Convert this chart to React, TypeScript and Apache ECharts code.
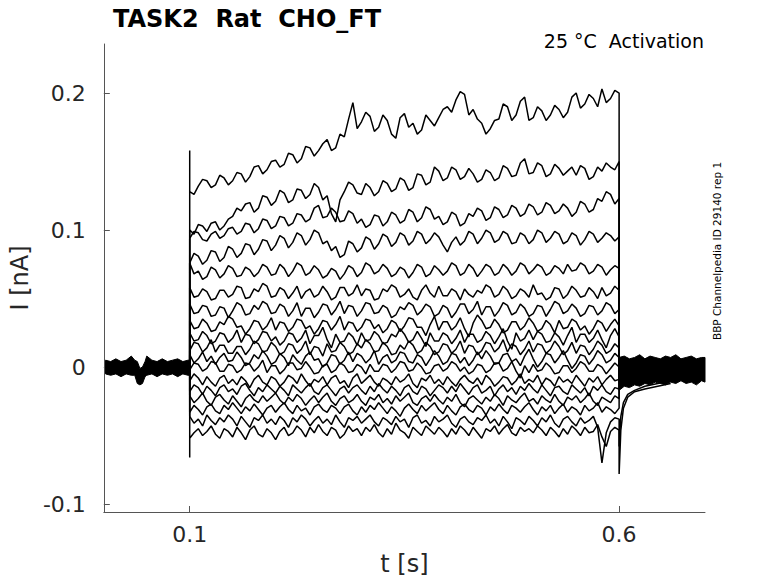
import React, { useEffect, useRef } from "react";
import * as echarts from "echarts";

// ---- data (currents in pA, times in s) ----
const stepTimes = [
  0.100, 0.105, 0.110, 0.115, 0.120, 0.125, 0.130, 0.135, 0.140, 0.145,
  0.150, 0.155, 0.160, 0.165, 0.170, 0.175, 0.180, 0.185, 0.190, 0.195,
  0.200, 0.205, 0.210, 0.215, 0.220, 0.225, 0.230, 0.235, 0.240, 0.245,
  0.250, 0.255, 0.260, 0.265, 0.270, 0.275, 0.280, 0.285, 0.290, 0.295,
  0.300, 0.305, 0.310, 0.315, 0.320, 0.325, 0.330, 0.335, 0.340, 0.345,
  0.350, 0.355, 0.360, 0.365, 0.370, 0.375, 0.380, 0.385, 0.390, 0.395,
  0.400, 0.405, 0.410, 0.415, 0.420, 0.425, 0.430, 0.435, 0.440, 0.445,
  0.450, 0.455, 0.460, 0.465, 0.470, 0.475, 0.480, 0.485, 0.490, 0.495,
  0.500, 0.505, 0.510, 0.515, 0.520, 0.525, 0.530, 0.535, 0.540, 0.545,
  0.550, 0.555, 0.560, 0.565, 0.570, 0.575, 0.580, 0.585, 0.590, 0.595,
  0.600,
];

const i01 = [128,126,132,137,136,131,133,140,138,133,136,142,141,135,139,146,147,141,144,150, 151,146,148,156,155,149,152,161,160,154,158,163,166,158,160,170,168,181,193,174, 179,186,183,172,175,184,180,170,167,182,185,175,178,170,173,184,180,176,182,188, 190,186,195,201,199,184,188,181,178,170,174,180,181,192,190,180,184,194,197,180, 182,190,187,180,184,191,188,182,186,197,200,189,192,199,196,190,203,193,196,202, 200];
const i02 = [100,97,104,103,99,105,106,100,103,108,110,116,114,119,120,113,116,125,124,118, 121,129,127,120,122,130,129,123,126,134,131,122,125,112,106,122,128,135,133,127, 126,134,131,125,128,136,134,128,130,138,136,129,131,141,140,133,135,146,143,136, 138,146,144,137,139,145,141,135,137,144,142,136,138,147,145,139,140,149,152,141, 142,149,147,139,141,148,145,140,143,146,140,147,145,137,139,146,143,149,146,144, 150];
const i03 = [94,99,98,93,92,97,99,94,96,101,102,97,99,105,104,98,101,108,107,101, 103,110,109,103,105,112,111,106,108,116,118,109,110,116,113,106,107,114,112,105, 108,102,104,111,110,103,106,113,111,105,107,115,113,106,109,117,115,108,110,104, 106,113,111,103,105,112,110,116,114,107,109,117,115,109,111,118,116,110,112,119, 117,111,113,120,118,112,114,119,116,110,113,121,119,113,115,123,121,128,126,119, 123];
const i04 = [76,83,81,75,78,85,84,77,80,88,86,80,83,90,89,82,86,93,92,85, 89,96,94,87,91,98,96,89,93,100,98,90,92,85,88,80,82,92,90,84, 87,95,93,86,90,97,95,88,91,98,96,89,92,99,97,90,93,98,95,89, 84,91,95,89,92,99,97,90,94,100,98,91,93,99,97,90,91,98,96,90, 93,100,98,91,94,99,97,90,92,98,96,89,93,99,97,91,94,98,96,92, 95];
const i05 = [76,68,70,64,66,73,71,65,68,74,72,66,67,73,71,66,69,75,73,67, 68,75,72,66,70,76,74,67,69,74,71,65,67,72,70,64,68,74,72,66, 69,76,74,68,70,75,72,66,68,73,71,65,69,75,73,66,68,74,71,67, 70,76,74,67,69,75,72,66,70,75,73,67,69,75,72,67,70,76,74,68, 71,75,73,67,69,74,72,68,75,70,71,76,74,68,70,75,73,67,71,74, 72];
const i06 = [58,51,52,57,55,49,50,56,56,51,53,59,58,50,51,57,55,61,59,51, 52,58,56,50,54,59,50,55,57,51,53,59,55,49,51,58,58,52,54,60, 52,57,56,49,50,57,55,60,58,51,53,57,51,49,56,60,54,51,59,52, 52,57,55,49,57,53,51,56,54,60,58,51,53,59,56,50,52,57,55,51, 60,53,54,49,51,58,57,50,53,59,56,51,52,58,55,50,58,52,54,59, 56];
const i07 = [46,39,40,45,44,37,38,44,43,36,41,47,45,38,39,45,42,48,46,39, 40,46,44,37,41,47,37,43,43,36,40,46,45,38,42,48,39,45,44,37, 41,47,46,39,40,45,43,36,38,44,42,47,45,38,41,46,44,37,39,45, 43,36,40,46,46,39,42,48,38,44,44,37,41,47,45,38,40,46,43,37, 39,45,44,37,42,48,46,39,41,46,43,37,39,45,44,38,41,47,45,39, 42];
const i08 = [34,28,29,35,32,26,27,33,31,37,35,29,30,24,28,34,33,27,30,36, 27,33,32,26,29,35,34,28,30,24,28,34,33,27,31,37,27,33,32,26, 29,35,34,28,31,25,28,34,32,26,30,36,35,29,29,23,31,37,27,33, 33,27,30,36,28,22,32,38,34,28,29,35,31,25,27,33,33,27,30,36, 32,26,28,34,31,25,34,28,29,35,33,27,30,24,28,34,32,26,31,35, 30];
const i09 = [25,19,20,26,23,17,19,25,24,18,21,27,18,24,23,17,20,26,25,19, 22,16,19,25,24,18,21,27,17,23,23,29,20,14,24,18,19,25,22,16, 25,19,20,26,23,17,18,24,22,28,24,18,20,26,21,15,25,19,19,25, 23,17,21,27,18,24,24,18,20,26,23,17,22,28,19,13,25,19,21,27, 20,26,24,18,19,25,22,16,23,29,18,24,24,18,21,27,20,14,23,28, 22];
const i10 = [12,18,17,11,14,20,11,16,16,10,10,15,15,9,13,19,17,11,12,18, 15,9,11,17,16,10,13,19,9,15,14,8,17,11,12,18,15,9,11,17, 14,20,17,11,12,18,15,9,10,16,13,19,16,10,12,18,15,9,11,17, 16,10,13,19,10,16,15,9,12,18,17,11,14,20,11,17,15,9,13,19, 11,17,16,10,13,19,15,9,12,18,10,16,15,9,13,19,16,10,12,17, 14];
const i11 = [9,3,6,11,4,8,2,7,10,4,5,11,7,1,3,9,6,12,8,2, 4,10,7,1,9,5,2,8,11,5,6,0,3,9,8,2,5,11,4,10, 8,3,6,12,2,7,9,3,5,11,10,4,3,9,7,1,6,12,8,2, 4,10,9,3,7,1,5,11,6,12,8,2,3,9,10,4,6,1,8,13, 6,0,4,10,9,3,7,12,5,-1,3,9,8,2,6,12,9,3,5,10, 7];
const i12 = [-2,3,2,-3,-1,4,3,-3,-3,2,1,-4,-2,3,2,-3,0,5,-4,1, 1,-5,-2,3,3,-2,-1,4,0,-5,-4,1,2,-4,-2,3,1,-4,-3,2, 0,-5,2,-3,-3,2,1,-4,-1,4,3,-3,-2,3,0,-5,-4,1,2,-3, -1,4,2,-3,0,-5,-3,2,1,-4,-2,3,3,-3,-1,4,-3,-8,1,-4, 2,-3,-2,3,0,-5,-4,1,1,-4,-1,4,2,-3,-3,2,0,-5,-1,3, 0];
const i13 = [-10,-5,-8,-13,-7,-11,-14,-8,-6,-12,-9,-13,-7,-10,-15,-9,-6,-11,-13,-7, -9,-14,-11,-6,-8,-12,-5,-10,-14,-9,-11,-7,-13,-8,-6,-12,-10,-15,-8,-5, -12,-9,-6,-11,-14,-8,-10,-13,-7,-11,-9,-5,-12,-15,-8,-10,-6,-12,-9,-13, -7,-11,-14,-9,-6,-10,-12,-8,-13,-6,-9,-14,-11,-7,-8,-13,-10,-5,-12,-9, -11,-6,-13,-8,-10,-14,-7,-11,-9,-12,-6,-10,-14,-8,-11,-7,-13,-9,-6,-10, -9];
const i14 = [-18,-13,-15,-20,-14,-17,-21,-15,-13,-18,-16,-20,-14,-12,-17,-21,-15,-18,-13,-16, -19,-14,-17,-21,-13,-16,-19,-15,-12,-18,-20,-15,-13,-17,-21,-16,-14,-19,-15,-13, -17,-20,-14,-18,-12,-16,-19,-14,-17,-21,-15,-13,-18,-20,-14,-16,-21,-17,-13,-15, -19,-14,-18,-12,-16,-20,-15,-13,-19,-17,-14,-21,-16,-13,-18,-15,-20,-14,-17,-12, -16,-19,-13,-17,-21,-15,-14,-18,-20,-13,-16,-19,-15,-21,-14,-17,-13,-18,-20,-15, -16];
const i15 = [-21,-26,-23,-19,-25,-28,-22,-20,-24,-27,-21,-25,-29,-23,-20,-24,-26,-21,-25,-22, -19,-24,-27,-22,-25,-20,-23,-28,-24,-21,-26,-22,-19,-25,-28,-23,-21,-26,-24,-20, -25,-28,-22,-24,-20,-26,-23,-27,-21,-25,-22,-19,-26,-28,-23,-21,-25,-20,-24,-27, -22,-25,-20,-26,-29,-23,-21,-24,-27,-22,-25,-20,-23,-28,-21,-24,-26,-22,-19,-25, -23,-27,-21,-24,-26,-20,-25,-28,-22,-24,-21,-26,-23,-19,-25,-28,-22,-24,-26,-21, -23];
const i16 = [-33,-28,-31,-35,-29,-27,-32,-34,-28,-31,-26,-30,-34,-29,-32,-27,-31,-35,-30,-28, -33,-29,-26,-31,-34,-28,-32,-30,-35,-29,-27,-31,-33,-28,-30,-34,-29,-27,-32,-35, -29,-33,-28,-31,-26,-30,-34,-29,-32,-36,-30,-27,-31,-34,-28,-32,-29,-26,-31,-34, -28,-32,-35,-29,-27,-31,-33,-28,-30,-35,-29,-32,-27,-31,-34,-28,-30,-33,-29,-26, -31,-35,-29,-32,-28,-34,-30,-27,-33,-29,-31,-35,-28,-32,-30,-26,-33,-29,-31,-34, -30];
const i17 = [-36,-41,-38,-43,-35,-39,-42,-37,-40,-35,-38,-43,-36,-40,-44,-37,-39,-35,-41,-38, -42,-36,-39,-44,-37,-40,-35,-38,-43,-39,-36,-41,-38,-42,-35,-40,-44,-37,-39,-36, -41,-38,-35,-40,-43,-37,-39,-42,-36,-40,-38,-44,-37,-35,-41,-39,-43,-36,-40,-38, -35,-41,-44,-38,-36,-40,-42,-37,-39,-35,-41,-38,-43,-36,-40,-45,-37,-39,-42,-36, -39,-43,-37,-40,-35,-41,-44,-38,-36,-40,-43,-37,-41,-39,-36,-44,-70,-48,-40,-37, -38];
const i18 = [-52,-48,-45,-50,-47,-43,-49,-52,-45,-47,-51,-44,-48,-53,-46,-43,-49,-51,-45,-48, -53,-47,-44,-50,-48,-43,-46,-51,-44,-48,-42,-47,-50,-44,-46,-52,-49,-43,-47,-45, -50,-44,-47,-42,-48,-51,-45,-49,-41,-46,-48,-52,-44,-47,-50,-43,-46,-49,-44,-47, -51,-45,-49,-43,-46,-50,-44,-48,-52,-45,-47,-43,-49,-45,-42,-48,-50,-44,-47,-45, -48,-43,-46,-50,-44,-47,-51,-45,-49,-43,-46,-50,-44,-48,-47,-42,-51,-58,-47,-44, -46];

const tracesPA = [i01, i02, i03, i04, i05, i06, i07, i08, i09, i10, i11, i12, i13, i14, i15, i16, i17, i18];

// capacitive transients at step on / off (pA)
const onsetTopPA = 158;
const onsetBottomPA = -66;
const tailTimes = [0.600, 0.602, 0.605, 0.610, 0.618, 0.630, 0.645, 0.660];
const tail17PA = [-58, -36, -26, -20, -17, -14, -12, -10];
const tail18PA = [-78, -46, -30, -22, -18, -16, -14, -12];

// holding-current band before / after the step (envelope of all sweeps, pA)
const preTimes = [0.002, 0.008, 0.014, 0.020, 0.026, 0.032, 0.036, 0.039, 0.042, 0.045, 0.048, 0.050, 0.056, 0.062, 0.068, 0.074, 0.080, 0.086, 0.092, 0.098, 0.100];
const preUpperPA = [5, 4, 6, 4, 5, 8, 5, 4, -1, 0, 4, 8, 5, 4, 6, 4, 5, 6, 4, 5, 5];
const preLowerPA = [-5, -6, -5, -7, -5, -6, -6, -12, -13, -12, -7, -6, -5, -7, -5, -6, -5, -7, -5, -6, -6];
const postTimes = [0.600, 0.606, 0.612, 0.618, 0.624, 0.630, 0.636, 0.642, 0.648, 0.654, 0.660, 0.666, 0.672, 0.678, 0.684, 0.690, 0.696, 0.700];
const postUpperPA = [7, 8, 6, 7, 9, 6, 8, 7, 6, 8, 7, 9, 6, 7, 8, 6, 7, 7];
const postLowerPA = [-17, -14, -15, -13, -14, -12, -13, -11, -12, -13, -11, -12, -10, -12, -11, -13, -10, -11];

const xTicks = [0.1, 0.6];
const xTickLabels = ["0.1", "0.6"];
const yTicks = [-0.1, 0, 0.1, 0.2];
const yTickLabels = ["-0.1", "0", "0.1", "0.2"];

const FONT = "DejaVu Sans";

function labelFor(ticks: number[], labels: string[]) {
  return (v: number) => {
    const i = ticks.findIndex((t) => Math.abs(t - v) < 1e-9);
    return i >= 0 ? labels[i] : "";
  };
}

function bandPoints(times: number[], upper: number[], lower: number[]) {
  const up = times.map((t, i) => [t, upper[i] / 1000]);
  const lo = times.map((t, i) => [t, lower[i] / 1000]).reverse();
  return [...up, ...lo];
}

function bandSeries(points: number[][]) {
  return {
    type: "custom",
    silent: true,
    data: points,
    encode: { x: 0, y: 1 },
    renderItem: (params: any, api: any) => {
      if (params.dataIndex !== 0) return null;
      return {
        type: "polygon",
        shape: { points: points.map((p) => api.coord(p)) },
        style: { fill: "#000", stroke: "#000", lineWidth: 1 },
      };
    },
  };
}

export default function App() {
  const ref = useRef<HTMLDivElement>(null);

  useEffect(() => {
    if (!ref.current) return;
    const chart = echarts.init(ref.current, undefined, { renderer: "svg" });

    const last = tracesPA.length - 1;
    const traceSeries = tracesPA.map((vals, k) => {
      const data: number[][] = [[0.1, 0]];
      if (k === 0) data.push([0.1, onsetTopPA / 1000]);
      if (k === last) data.push([0.1, onsetBottomPA / 1000]);
      vals.forEach((v, i) => {
        if (stepTimes[i] !== undefined) data.push([stepTimes[i], v / 1000]);
      });
      if (k === last) {
        tailTimes.forEach((t, i) => data.push([t, tail18PA[i] / 1000]));
      } else if (k === last - 1) {
        tailTimes.forEach((t, i) => data.push([t, tail17PA[i] / 1000]));
      } else {
        data.push([0.6, 0]);
      }
      return {
        type: "line",
        data,
        symbol: "none",
        silent: true,
        lineStyle: { color: "#000", width: 1.5 },
      };
    });

    chart.setOption({
      animation: false,
      title: {
        text: "TASK2  Rat  CHO_FT",
        left: 108,
        top: 2,
        textStyle: { fontFamily: FONT, fontSize: 24, fontWeight: "bold", color: "#000" },
      },
      grid: { left: 100, right: 73, top: 44, bottom: 71 },
      xAxis: {
        type: "value",
        min: 0,
        max: 0.7,
        name: "t [s]",
        nameLocation: "middle",
        nameGap: 40,
        nameTextStyle: { fontFamily: FONT, fontSize: 24, color: "#262626" },
        axisLine: { onZero: false, lineStyle: { color: "#555", width: 1 } },
        axisTick: { inside: true, length: 6, customValues: xTicks, lineStyle: { color: "#555" } },
        axisLabel: {
          customValues: xTicks,
          formatter: labelFor(xTicks, xTickLabels),
          fontFamily: FONT,
          fontSize: 22,
          color: "#262626",
          margin: 11,
        },
        splitLine: { show: false },
      },
      yAxis: {
        type: "value",
        min: -0.1058,
        max: 0.2358,
        name: "I [nA]",
        nameLocation: "middle",
        nameGap: 58,
        nameTextStyle: { fontFamily: FONT, fontSize: 24, color: "#262626" },
        axisLine: { show: true, lineStyle: { color: "#555", width: 1 } },
        axisTick: { show: true, inside: true, length: 6, customValues: yTicks, lineStyle: { color: "#555" } },
        axisLabel: {
          customValues: yTicks,
          formatter: labelFor(yTicks, yTickLabels),
          fontFamily: FONT,
          fontSize: 22,
          color: "#262626",
          margin: 18,
        },
        splitLine: { show: false },
      },
      graphic: [
        {
          type: "text",
          x: 704,
          y: 41,
          style: {
            text: "25 °C  Activation",
            fontFamily: FONT,
            fontSize: 19,
            fill: "#000",
            align: "right",
            verticalAlign: "middle",
          },
        },
        {
          type: "text",
          x: 717,
          y: 251,
          rotation: Math.PI / 2,
          style: {
            text: "BBP Channelpedia ID 29140 rep 1",
            fontFamily: FONT,
            fontSize: 10.5,
            fill: "#000",
            align: "center",
            verticalAlign: "middle",
          },
        },
      ],
      series: [
        bandSeries(bandPoints(preTimes, preUpperPA, preLowerPA)),
        bandSeries(bandPoints(postTimes, postUpperPA, postLowerPA)),
        ...traceSeries,
      ],
    });

    return () => chart.dispose();
  }, []);

  return (
    <div
      ref={ref}
      style={{ position: "fixed", left: 0, top: 0, width: 778, height: 583, background: "#fff" }}
    />
  );
}
